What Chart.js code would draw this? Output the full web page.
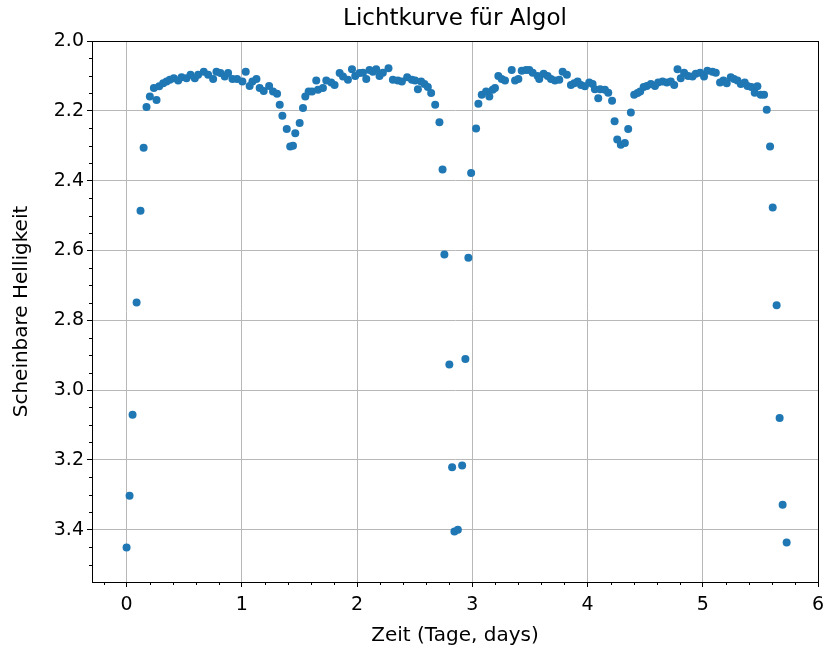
<!DOCTYPE html>
<html>
<head>
<meta charset="utf-8">
<script src="https://cdn.jsdelivr.net/npm/chart.js@4/dist/chart.umd.min.js"></script>
<style>
html,body{margin:0;padding:0;background:#fff;}
#wrap{width:825px;height:653px;}
</style>
</head>
<body>
<div id="wrap"><canvas id="c" width="825" height="653"></canvas></div>
<script>
const titleText = "Lichtkurve für Algol";
const xLabel = "Zeit (Tage, days)";
const yLabel = "Scheinbare Helligkeit";

const timeDays = [
0.000,0.026,0.052,0.087,0.121,0.148,0.173,0.202,0.237,0.260,0.283,0.318,0.347,0.375,0.410,0.448,0.477,0.520,0.555,0.592,
0.621,0.670,0.708,0.751,0.780,0.815,0.852,0.881,0.919,0.959,1.005,1.034,1.068,1.092,1.127,1.155,1.190,1.237,1.271,1.306,
1.329,1.352,1.390,1.420,1.444,1.464,1.502,1.531,1.551,1.580,1.609,1.646,1.661,1.704,1.733,1.776,1.805,1.849,1.878,1.921,
1.956,1.984,2.022,2.051,2.080,2.108,2.137,2.166,2.195,2.224,2.273,2.311,2.354,2.389,2.435,2.476,2.504,2.528,2.556,2.585,
2.614,2.643,2.678,2.715,2.742,2.758,2.801,2.825,2.845,2.875,2.912,2.940,2.966,2.990,3.033,3.053,3.082,3.120,3.148,3.177,
3.197,3.226,3.255,3.284,3.342,3.371,3.400,3.429,3.466,3.495,3.524,3.567,3.581,3.619,3.654,3.683,3.717,3.755,3.784,3.821,
3.856,3.885,3.914,3.943,3.977,4.015,4.044,4.064,4.093,4.110,4.151,4.180,4.213,4.235,4.258,4.289,4.324,4.353,4.376,4.405,
4.434,4.457,4.487,4.515,4.550,4.585,4.613,4.651,4.688,4.723,4.752,4.781,4.809,4.838,4.873,4.911,4.939,4.977,5.011,5.040,
5.084,5.113,5.150,5.179,5.208,5.243,5.271,5.301,5.330,5.364,5.388,5.422,5.451,5.474,5.503,5.532,5.555,5.584,5.607,5.641,
5.667,5.693,5.728
];
const magnitude = [
3.451,3.303,3.071,2.749,2.486,2.306,2.189,2.159,2.135,2.169,2.130,2.121,2.116,2.111,2.107,2.113,2.104,2.107,2.097,2.107,
2.097,2.088,2.097,2.109,2.088,2.092,2.102,2.092,2.109,2.109,2.116,2.088,2.129,2.116,2.109,2.135,2.143,2.129,2.145,2.151,
2.183,2.214,2.252,2.302,2.300,2.264,2.235,2.192,2.159,2.145,2.145,2.113,2.140,2.135,2.113,2.119,2.126,2.092,2.102,2.111,
2.081,2.100,2.092,2.091,2.109,2.083,2.088,2.081,2.100,2.091,2.078,2.111,2.113,2.116,2.104,2.111,2.113,2.138,2.116,2.123,
2.132,2.149,2.183,2.233,2.368,2.612,2.927,3.221,3.405,3.400,3.216,2.911,2.621,2.378,2.251,2.180,2.154,2.145,2.159,2.140,
2.135,2.100,2.109,2.113,2.083,2.113,2.109,2.085,2.083,2.083,2.091,2.100,2.109,2.094,2.100,2.109,2.113,2.111,2.088,2.097,
2.126,2.121,2.116,2.126,2.130,2.119,2.123,2.138,2.164,2.138,2.140,2.148,2.171,2.230,2.282,2.297,2.292,2.252,2.205,2.154,
2.149,2.145,2.132,2.129,2.123,2.129,2.119,2.116,2.119,2.116,2.126,2.081,2.107,2.091,2.100,2.102,2.094,2.091,2.102,2.085,
2.088,2.091,2.119,2.113,2.121,2.104,2.109,2.113,2.123,2.119,2.129,2.132,2.148,2.130,2.154,2.154,2.197,2.302,2.477,2.757,
3.080,3.329,3.437
];

const points = timeDays.map((t, i) => ({x: t, y: magnitude[i]}));

const FONT = "'DejaVu Sans', sans-serif";

const frameAndMinor = {
  id: 'frameAndMinor',
  afterDraw(chart) {
    const ctx = chart.ctx, a = chart.chartArea;
    const xs = chart.scales.x, ys = chart.scales.y;
    ctx.save();
    ctx.strokeStyle = '#000';
    ctx.lineWidth = 1;
    ctx.beginPath();
    for (let k = -1; k <= 29; k++) {
      if (k % 5 === 0) continue;
      const v = k * 0.2;
      if (v < xs.min || v > xs.max) continue;
      const px = Math.round(xs.getPixelForValue(v)) + 0.5;
      ctx.moveTo(px, a.bottom); ctx.lineTo(px, a.bottom + 3);
    }
    for (let k = 40; k <= 71; k++) {
      if (k % 4 === 0) continue;
      const v = k * 0.05;
      if (v < ys.min || v > ys.max) continue;
      const py = Math.round(ys.getPixelForValue(v)) + 0.5;
      ctx.moveTo(a.left, py); ctx.lineTo(a.left - 3, py);
    }
    ctx.stroke();
    ctx.strokeRect(Math.round(a.left) + 0.5, Math.round(a.top) + 0.5,
                   Math.round(a.right - a.left), Math.round(a.bottom - a.top));
    // title centred over the plot area
    ctx.fillStyle = '#000';
    ctx.font = "23px " + FONT;
    ctx.textAlign = 'center';
    ctx.textBaseline = 'middle';
    ctx.fillText(titleText, (a.left + a.right) / 2, 19);
    ctx.restore();
  }
};

new Chart(document.getElementById('c'), {
  type: 'scatter',
  data: {
    datasets: [{
      data: points,
      backgroundColor: '#1f77b4',
      borderWidth: 0,
      pointRadius: 4,
      pointHoverRadius: 4
    }]
  },
  options: {
    responsive: false,
    animation: false,
    events: [],
    layout: { padding: { left: 0, right: 0, top: 41, bottom: 0 } },
    plugins: {
      legend: { display: false },
      tooltip: { enabled: false },
      title: { display: false }
    },
    scales: {
      x: {
        type: 'linear',
        min: -0.3,
        max: 6,
        afterFit(s) { s.height = 71; s.paddingRight = 7; s.paddingLeft = 0; },
        border: { display: true, color: '#000', width: 1 },
        grid: { color: '#b8b8b8', lineWidth: 1, tickColor: '#000', tickLength: 5, drawTicks: true },
        ticks: {
          stepSize: 1,
          includeBounds: false,
          color: '#000',
          padding: 7,
          maxRotation: 0,
          font: { family: FONT, size: 19 },
          callback: v => String(Math.round(v))
        },
        title: {
          display: true,
          text: xLabel,
          color: '#000',
          font: { family: FONT, size: 20 },
          padding: { top: 5.5, bottom: 5.5 }
        }
      },
      y: {
        type: 'linear',
        reverse: true,
        min: 2.0,
        max: 3.55,
        afterFit(s) { s.width = 92; s.paddingTop = 0; s.paddingBottom = 0; },
        border: { display: true, color: '#000', width: 1 },
        grid: { color: '#b8b8b8', lineWidth: 1, tickColor: '#000', tickLength: 5, drawTicks: true },
        ticks: {
          stepSize: 0.2,
          includeBounds: false,
          color: '#000',
          padding: 3,
          font: { family: FONT, size: 19 },
          callback: v => Number(v).toFixed(1)
        },
        title: {
          display: true,
          text: yLabel,
          color: '#000',
          font: { family: FONT, size: 20 },
          padding: { top: 10, bottom: 4 }
        }
      }
    }
  },
  plugins: [frameAndMinor]
});
</script>
</body>
</html>
